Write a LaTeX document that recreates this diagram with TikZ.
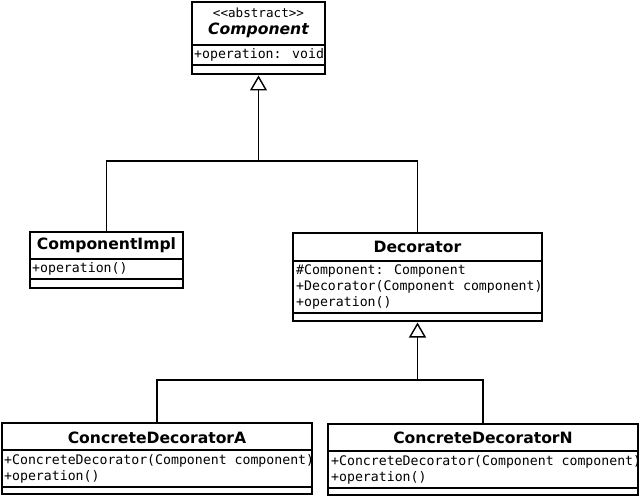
\documentclass[tikz,border=0pt]{standalone}
\usepackage{fontspec}
\setmainfont{DejaVu Sans}
\newfontfamily\monof{DejaVu Sans Mono}
\usetikzlibrary{arrows.meta}
\tikzset{
  umlbox/.style={draw, line width=1.6pt, inner sep=0pt, outer sep=0pt, fill=white},
  sep/.style={line width=1.6pt},
  ttl/.style={font=\fontsize{15.6}{18}\selectfont\bfseries, inner sep=0pt},
  ttlit/.style={font=\fontsize{15.6}{18}\selectfont\bfseries\itshape, inner sep=0pt},
  stereo/.style={font=\monof\fontsize{12.6}{15}\selectfont, inner sep=0pt},
  mem/.style={font=\monof\fontsize{13.2}{16}\selectfont, anchor=west, inner sep=0pt},
  inherit/.style={line width=1.6pt, -{Triangle[open, length=15pt, width=17pt, line width=1.4pt]}},
  conn/.style={line width=1.6pt},
}
\begin{document}
\begin{tikzpicture}[x=1pt, y=-1pt]
\useasboundingbox (0,0) rectangle (640,497);
% Component
\node[umlbox, minimum width=133pt, minimum height=72pt] (comp) at (258.5,38) {};
\node[stereo] (compst) at (258.5,13) {<{}<abstract>{}>};
\node[ttlit] (compt) at (258.5,30.5) {Component};
\draw[sep] (comp.west |- 0,45) -- (comp.east |- 0,45);
\node[mem] (compm1) at (194,55) {+operation: void};
\draw[sep] (comp.west |- 0,65) -- (comp.east |- 0,65);
% ComponentImpl
\node[umlbox, minimum width=153pt, minimum height=56pt] (cimpl) at (106.5,260) {};
\node[ttl] (cimplt) at (106.5,245.5) {ComponentImpl};
\draw[sep] (cimpl.west |- 0,259) -- (cimpl.east |- 0,259);
\node[mem] (cimplm1) at (32,269) {+operation()};
\draw[sep] (cimpl.west |- 0,279) -- (cimpl.east |- 0,279);
% Decorator
\node[umlbox, minimum width=249pt, minimum height=88pt] (deco) at (417.5,277) {};
\node[ttl] (decot) at (417.5,246.5) {Decorator};
\draw[sep] (deco.west |- 0,261) -- (deco.east |- 0,261);
\node[mem] (decom1) at (296,270.5) {\#Component: Component};
\node[mem] (decom2) at (296,286.5) {+Decorator(Component component)};
\node[mem] (decom3) at (296,302.5) {+operation()};
\draw[sep] (deco.west |- 0,313) -- (deco.east |- 0,313);
% ConcreteDecoratorA
\node[umlbox, minimum width=310pt, minimum height=71pt] (cda) at (157,458.5) {};
\node[ttl] (cdat) at (157,437.5) {ConcreteDecoratorA};
\draw[sep] (cda.west |- 0,450) -- (cda.east |- 0,450);
\node[mem] (cdam1) at (4,460.5) {+ConcreteDecorator(Component component)};
\node[mem] (cdam2) at (4,476.5) {+operation()};
\draw[sep] (cda.west |- 0,487) -- (cda.east |- 0,487);
% ConcreteDecoratorN
\node[umlbox, minimum width=310pt, minimum height=71pt] (cdn) at (483,459.5) {};
\node[ttl] (cdnt) at (483,437.5) {ConcreteDecoratorN};
\draw[sep] (cdn.west |- 0,451) -- (cdn.east |- 0,451);
\node[mem] (cdnm1) at (331,461.5) {+ConcreteDecorator(Component component)};
\node[mem] (cdnm2) at (331,477.5) {+operation()};
\draw[sep] (cdn.west |- 0,488) -- (cdn.east |- 0,488);
% connectors
\coordinate (j1) at (258.5,161);
\coordinate (j2) at (417.5,380);
\draw[conn] (cimpl.north) |- (j1);
\draw[conn] (deco.north) |- (j1);
\draw[inherit] (j1) -- ([yshift=-1.5pt]comp.south);
\draw[conn] (cda.north) |- (j2);
\draw[conn] (cdn.north) |- (j2);
\draw[inherit] (j2) -- ([yshift=-1.5pt]deco.south);
\end{tikzpicture}
\end{document}
